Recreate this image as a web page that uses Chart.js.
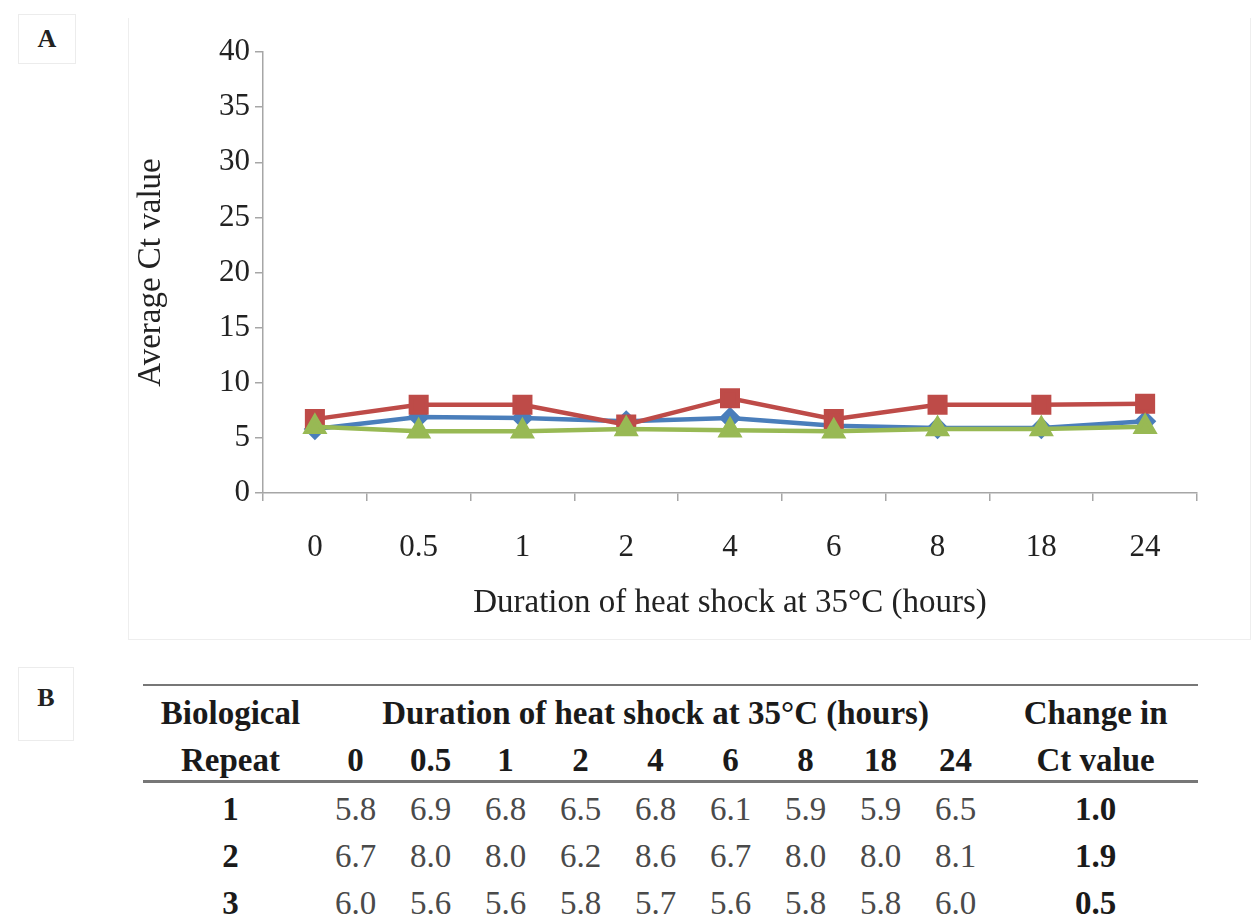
<!DOCTYPE html>
<html lang="en">
<head>
    <meta charset="UTF-8">
    <title>Average Ct value during heat shock</title>
    <script src="https://cdn.jsdelivr.net/npm/chart.js"></script>
    <style>
        body { margin: 0; background: #fff; width: 1252px; height: 920px; position: relative; overflow: hidden;
               font-family: "Liberation Serif", "DejaVu Serif", serif; color: #222; }
        .panel-tag { position: absolute; border: 1px solid #ececec; font-weight: bold; font-size: 26px; }
        #tagA { left: 18px; top: 14px; width: 56px; height: 48px; line-height: 48px; text-align: center; }
        #tagB { left: 18px; top: 667px; width: 54px; height: 72px; line-height: 60px; text-align: center; }
        #frameA { position: absolute; left: 128px; top: 18px; width: 1121px; height: 621px;
                  border: 1px solid #eeeeee; border-top: none; }
        #chartBox { position: absolute; left: 0; top: 0; width: 1252px; height: 650px; }
        #ctTable { position: absolute; left: 143px; top: 684px; width: 1055px; border-collapse: collapse;
                   table-layout: fixed; font-size: 33px; }
        #ctTable th, #ctTable td { padding: 0; text-align: center; white-space: nowrap; }
        #ctTable th { font-weight: bold; color: #1a1a1a; height: 40px; padding-top: 7px; }
        #ctTable td { color: #4a4a4a; height: 42px; padding-top: 5px; }
        #ctTable thead tr:first-child th { border-top: 2px solid #777; }
        #ctTable thead tr:last-child th { border-bottom: 3px solid #777; }
        #ctTable td.rep, #ctTable td.chg { font-weight: bold; color: #1a1a1a; }
    </style>
</head>
<body>
    <div id="frameA"></div>
    <div class="panel-tag" id="tagA">A</div>
    <div class="panel-tag" id="tagB">B</div>
    <div id="chartBox"><canvas id="ctChart" width="1252" height="650"></canvas></div>
    <table id="ctTable"></table>

    <script>
        // heat shock time points (hours)
        const hours = ["0", "0.5", "1", "2", "4", "6", "8", "18", "24"];

        // average Ct value per biological repeat
        const repeat1 = [5.8, 6.9, 6.8, 6.5, 6.8, 6.1, 5.9, 5.9, 6.5];
        const repeat2 = [6.7, 8.0, 8.0, 6.2, 8.6, 6.7, 8.0, 8.0, 8.1];
        const repeat3 = [6.0, 5.6, 5.6, 5.8, 5.7, 5.6, 5.8, 5.8, 6.0];

        const repeatNames = ["1", "2", "3"];
        const ctChange = ["1.0", "1.9", "0.5"];

        const yTicks = [0, 5, 10, 15, 20, 25, 30, 35, 40];

        const axisGray = "#a6a6a6";
        const tickFont = { family: "Liberation Serif", size: 31 };
        const titleFont = { family: "Liberation Serif", size: 33 };

        // --- line chart ---
        const ctx = document.getElementById("ctChart").getContext("2d");
        new Chart(ctx, {
            type: "line",
            data: {
                labels: hours,
                datasets: [
                    {
                        label: "Repeat 1",
                        data: repeat1,
                        borderColor: "#4a7ebb",
                        backgroundColor: "#4a7ebb",
                        pointStyle: "rectRot",
                        pointRadius: 8,
                        borderWidth: 4.5,
                        order: 3
                    },
                    {
                        label: "Repeat 2",
                        data: repeat2,
                        borderColor: "#be4b48",
                        backgroundColor: "#be4b48",
                        pointStyle: "rect",
                        pointRadius: 11,
                        borderWidth: 4.5,
                        order: 2
                    },
                    {
                        label: "Repeat 3",
                        data: repeat3,
                        borderColor: "#98b954",
                        backgroundColor: "#98b954",
                        pointStyle: "triangle",
                        pointRadius: 10,
                        borderWidth: 4.5,
                        order: 1
                    }
                ]
            },
            options: {
                responsive: false,
                animation: false,
                layout: { padding: { left: 130, right: 55, top: 52, bottom: 27 } },
                plugins: { legend: { display: false }, tooltip: { enabled: false } },
                elements: {
                    line: { tension: 0 },
                    point: { borderWidth: 1 }
                },
                scales: {
                    x: {
                        offset: true,
                        grid: { offset: true, drawOnChartArea: false, tickLength: 8, color: axisGray, lineWidth: 1.5 },
                        border: { color: axisGray, width: 1.5 },
                        ticks: { font: tickFont, color: "#222", padding: 28, maxRotation: 0 },
                        title: {
                            display: true,
                            text: "Duration of heat shock at 35°C (hours)",
                            font: titleFont,
                            color: "#222",
                            padding: { top: 0, bottom: 0 }
                        },
                        afterFit: scale => { scale.height = 130; }
                    },
                    y: {
                        min: 0,
                        max: 40,
                        afterBuildTicks: scale => { scale.ticks = yTicks.map(v => ({ value: v })); },
                        grid: { drawOnChartArea: false, tickLength: 8, color: axisGray, lineWidth: 1.5 },
                        border: { color: axisGray, width: 1.5 },
                        ticks: { font: tickFont, color: "#222", padding: 5 },
                        title: {
                            display: true,
                            text: "Average Ct value",
                            font: titleFont,
                            color: "#222",
                            padding: { top: 2, bottom: 0 }
                        },
                        afterFit: scale => { scale.width = 133; }
                    }
                }
            }
        });

        // --- summary table built from the same arrays ---
        const table = document.getElementById("ctTable");
        const rows = [repeat1, repeat2, repeat3];
        let html = "<colgroup><col style='width:175px'>";
        hours.forEach(() => { html += "<col style='width:75px'>"; });
        html += "<col style='width:205px'></colgroup>";
        html += "<thead><tr><th>Biological</th>" +
                "<th colspan='" + hours.length + "'>Duration of heat shock at 35°C (hours)</th>" +
                "<th>Change in</th></tr><tr><th>Repeat</th>";
        hours.forEach(h => { html += "<th>" + h + "</th>"; });
        html += "<th>Ct value</th></tr></thead><tbody>";
        rows.forEach((vals, i) => {
            html += "<tr><td class='rep'>" + repeatNames[i] + "</td>";
            vals.forEach(v => { html += "<td>" + v.toFixed(1) + "</td>"; });
            html += "<td class='chg'>" + ctChange[i] + "</td></tr>";
        });
        html += "</tbody>";
        table.innerHTML = html;
    </script>
</body>
</html>
